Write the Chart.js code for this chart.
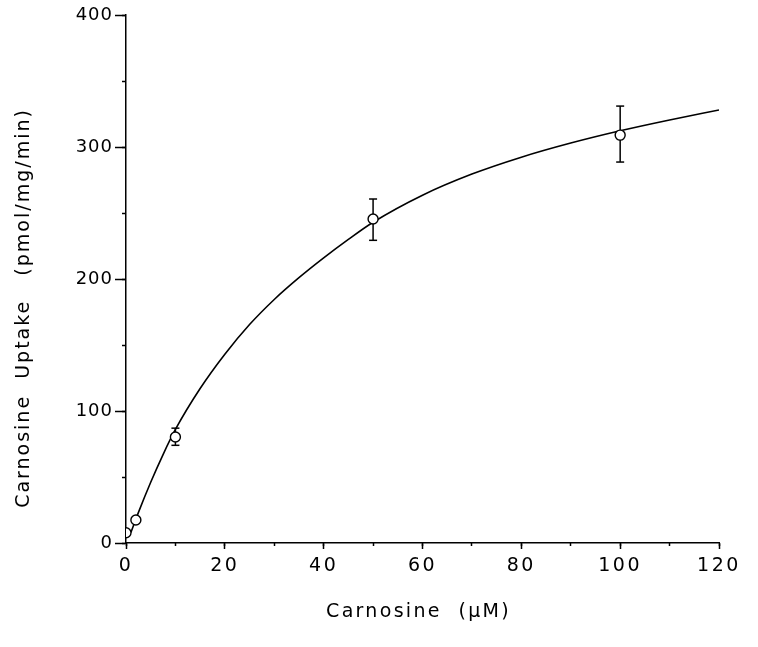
<!DOCTYPE html>
<html><head><meta charset="utf-8">
<script src="https://cdn.jsdelivr.net/npm/chart.js@4.4.0/dist/chart.umd.min.js"></script>
<style>html,body{margin:0;padding:0;background:#fff;}canvas{display:block;}</style>
</head><body>
<canvas id="c" width="758" height="647"></canvas>
<script>
// ---- data ----
const concentrations = [0, 2, 10, 50, 100];
const uptakeMeans = [7.8, 17.4, 80.3, 245.5, 309];
const errorLow = [null, null, 74, 229.3, 288.6];
const errorHigh = [null, null, 87, 260.6, 331];
const fitX = [1, 2.5, 5, 7.5, 10, 15, 20, 25, 30, 35, 40, 45, 50, 60, 70, 80, 90, 100, 110, 120];
const fitY = [8, 23, 46, 67, 86, 117, 143, 165.5, 184.5, 201, 216, 230, 243, 263.5, 279.5, 292.3, 303, 312.3, 320.5, 328];
const xTickValues = [0, 20, 40, 60, 80, 100, 120];
const xMinorTickValues = [0, 10, 20, 30, 40, 50, 60, 70, 80, 90, 100, 110, 120];
const yTickValues = [0, 100, 200, 300, 400];
const yMinorTickValues = [0, 50, 100, 150, 200, 250, 300, 350, 400];
const xTitle = 'Carnosine  (μM)';
const yTitle = 'Carnosine  Uptake   (pmol/mg/min)';

// ---- styling helpers ----
const LABEL_SPACING = {x: 2.5, y: 1};
const TITLE_SPACING = {x: 2.3, y: 2};
const TITLE_SHIFT = {x: [-4, 0], y: [0, 29]};

class SpacedLinearScale extends Chart.LinearScale {
  drawLabels(area) {
    const ctx = this.ctx; ctx.save();
    if ('letterSpacing' in ctx) ctx.letterSpacing = (LABEL_SPACING[this.id] || 0) + 'px';
    super.drawLabels(area); ctx.restore();
  }
  drawTitle() {
    const ctx = this.ctx; ctx.save();
    if ('letterSpacing' in ctx) ctx.letterSpacing = (TITLE_SPACING[this.id] || 0) + 'px';
    const s = TITLE_SHIFT[this.id] || [0, 0];
    ctx.translate(s[0], s[1]);
    super.drawTitle(); ctx.restore();
  }
}
SpacedLinearScale.id = 'spacedLinear';
SpacedLinearScale.defaults = Chart.LinearScale.defaults;
Chart.register(SpacedLinearScale);

Chart.defaults.font.family = "'DejaVu Sans', sans-serif";
Chart.defaults.color = '#000';

const setTicks = (vals) => (s) => { s.ticks = vals.map(v => ({value: v})); };

const markerData = concentrations.map((x, i) => ({x, y: uptakeMeans[i]}));
const fitData = fitX.map((x, i) => ({x, y: fitY[i]}));
const errorSets = [];
concentrations.forEach((x, i) => {
  if (errorLow[i] == null) return;
  errorSets.push({
    data: [{x, y: errorLow[i]}, {x, y: errorHigh[i]}],
    showLine: true, borderColor: '#000', borderWidth: 1.5,
    pointStyle: 'line', pointRadius: 4, pointHoverRadius: 4,
    pointBorderWidth: 1.5, pointBorderColor: '#000',
    xAxisID: 'x', yAxisID: 'y'
  });
});

new Chart(document.getElementById('c'), {
  type: 'scatter',
  data: {
    datasets: [
      {data: markerData, pointStyle: 'circle', pointRadius: 5, pointHoverRadius: 5,
       pointBackgroundColor: '#fff', pointBorderColor: '#000', pointBorderWidth: 1.4,
       showLine: false, xAxisID: 'x', yAxisID: 'y'},
      ...errorSets,
      {data: fitData, showLine: true, pointRadius: 0, borderColor: '#000', borderWidth: 1.6,
       cubicInterpolationMode: 'monotone', fill: false, xAxisID: 'x', yAxisID: 'y'}
    ]
  },
  options: {
    responsive: false, animation: false,
    layout: {padding: {top: 15, right: 39, bottom: 0, left: 0}},
    plugins: {legend: {display: false}, tooltip: {enabled: false}},
    events: [],
    scales: {
      xMinor: {type: 'linear', position: 'bottom', weight: 0, min: 0, max: 120,
        afterBuildTicks: setTicks(xMinorTickValues), afterFit: s => { s.height = 0; },
        ticks: {display: false},
        grid: {drawOnChartArea: false, drawTicks: true, tickLength: 3, tickWidth: 1.5, tickColor: '#000'},
        border: {display: false}},
      x: {type: 'spacedLinear', position: 'bottom', weight: 1, min: 0, max: 120,
        afterBuildTicks: setTicks(xTickValues), afterFit: s => { s.height = 104; },
        ticks: {color: '#000', font: {size: 19}, padding: 6, maxRotation: 0, autoSkip: false},
        grid: {drawOnChartArea: false, drawTicks: true, tickLength: 6, tickWidth: 1.5, tickColor: '#000'},
        border: {display: true, color: '#000', width: 1.5},
        title: {display: true, text: xTitle, color: '#000', font: {size: 19}, padding: {top: 0, bottom: 24}}},
      yMinor: {type: 'linear', position: 'left', weight: 0, min: 0, max: 400,
        afterBuildTicks: setTicks(yMinorTickValues), afterFit: s => { s.width = 0; },
        ticks: {display: false},
        grid: {drawOnChartArea: false, drawTicks: true, tickLength: 4, tickWidth: 1.5, tickColor: '#000'},
        border: {display: false}},
      y: {type: 'spacedLinear', position: 'left', weight: 1, min: 0, max: 400,
        afterBuildTicks: setTicks(yTickValues), afterFit: s => { s.width = 126; },
        ticks: {color: '#000', font: {size: 18}, padding: 2, autoSkip: false},
        grid: {drawOnChartArea: false, drawTicks: true, tickLength: 11, tickWidth: 1.5, tickColor: '#000'},
        border: {display: true, color: '#000', width: 1.5},
        title: {display: true, text: yTitle, color: '#000', font: {size: 19}, padding: {top: 13, bottom: 0}}}
    }
  }
});
</script>
</body></html>
